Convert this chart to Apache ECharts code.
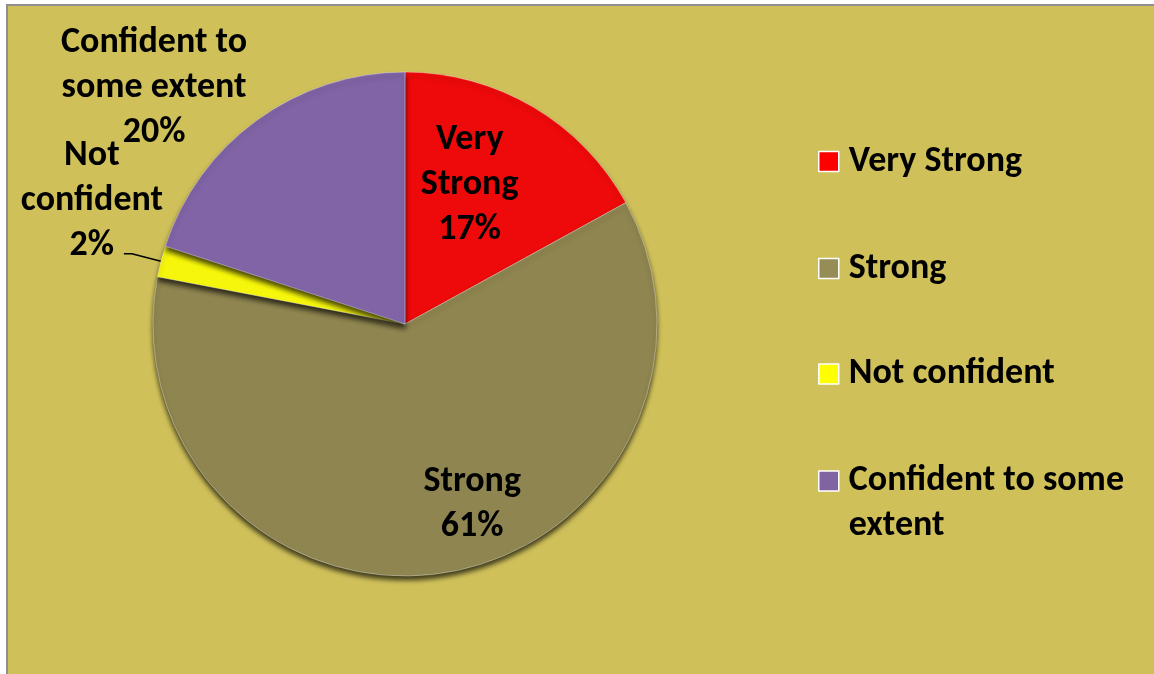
<!DOCTYPE html>
<html>
<head>
<meta charset="utf-8">
<script src="https://cdn.jsdelivr.net/npm/echarts@6/dist/echarts.min.js"></script>
<style>
  html, body { margin: 0; padding: 0; background: #ffffff; width: 1154px; height: 674px; overflow: hidden; }
  #frame { position: absolute; left: 6px; top: 4px; width: 1160px; height: 700px; background: #CFC05A;
           border-left: 2px solid #8f8f8f; border-top: 2px solid #8f8f8f; }
  #chart { position: absolute; left: 0; top: 0; width: 1154px; height: 674px; }
</style>
</head>
<body>
<div id="frame"></div>
<div id="chart"></div>
<script>
// ---- data ----
const categories = ['Very Strong', 'Strong', 'Not confident', 'Confident to some extent'];
const values = [17, 61, 2, 20];
const labelLines = [['Very', 'Strong'], ['Strong'], ['Not', 'confident'], ['Confident to', 'some extent']];
const legendLines = [['Very Strong'], ['Strong'], ['Not confident'], [' ', 'Confident to some', 'extent']];

// ---- style ----
const colors = ['#EE0A0A', '#8F8550', '#F6F60C', '#8064A6'];
const legendColors = ['#FF0000', '#968C55', '#FFFF00', '#8064A2'];
const FONT = 'Carlito, Lato, "Open Sans", sans-serif';
const FS = 36;
const LH = 45;

const tok = (w) => ({ width: w, align: 'center', fontFamily: FONT, fontWeight: 'bold', fontSize: FS, lineHeight: LH, color: '#000' });

const labelCfg = [
  { position: 'inside', offset: [-1, -28] },
  { position: 'inside', offset: [47, 53] },
  { position: 'outside', width: 170, offset: [58, -53], rich: { c: tok(170) } },
  { position: 'outside', width: 210, offset: [46, -20], rich: { c: tok(210) } }
];
const lineCfg = [
  { show: false },
  { show: false },
  { show: true, length: 30, length2: 8, lineStyle: { color: '#000', width: 1.5 } },
  { show: false }
];

const chart = echarts.init(document.getElementById('chart'), null, { renderer: 'canvas' });

const pieData = categories.map((name, i) => ({
  name: name,
  value: values[i],
  itemStyle: { color: colors[i] },
  label: labelCfg[i],
  labelLine: lineCfg[i]
}));

const legendTops = [139, 246, 351.5, 413.5];
const legends = categories.map((name, i) => ({
  show: true,
  orient: 'vertical',
  left: 818,
  top: legendTops[i],
  padding: 0,
  itemWidth: 20,
  itemHeight: 20,
  icon: 'rect',
  selectedMode: false,
  data: [{ name: name, itemStyle: { color: legendColors[i], borderColor: '#ffffff', borderWidth: 1.5 } }],
  formatter: () => legendLines[i].join('\n'),
  textStyle: {
    fontFamily: FONT, fontWeight: 'bold', fontSize: FS, lineHeight: LH, color: '#000',
    padding: [0, 0, 0, 5]
  }
}));

chart.setOption({
  backgroundColor: 'transparent',
  animation: false,
  legend: legends,
  series: [{
    type: 'pie',
    center: [405, 324],
    radius: 252,
    startAngle: 90,
    clockwise: true,
    avoidLabelOverlap: false,
    labelLayout: { hideOverlap: false },
    itemStyle: {
      borderColor: 'rgba(255,255,255,0.35)',
      borderWidth: 1,
      shadowColor: 'rgba(0,0,0,0.7)',
      shadowBlur: 5,
      shadowOffsetY: 4
    },
    label: {
      show: true,
      fontFamily: FONT, fontWeight: 'bold', fontSize: FS, lineHeight: LH, color: '#000',
      formatter: (p) => {
        const i = p.dataIndex;
        const lines = labelLines[i].concat([Math.round(p.percent) + '%']);
        if (labelCfg[i].rich) return lines.map(s => '{c|' + s + '}').join('\n');
        return lines.join('\n');
      }
    },
    emphasis: { disabled: true },
    data: pieData
  }]
});
</script>
</body>
</html>
